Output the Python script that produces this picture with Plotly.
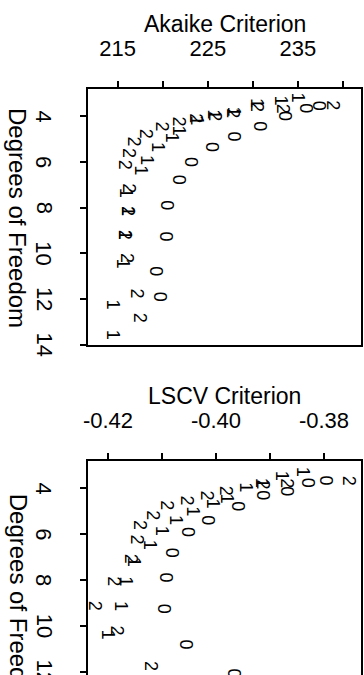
import plotly.graph_objects as go

FONT = "Liberation Sans, Arial, Helvetica, sans-serif"

# ---------------- data ----------------
# Top panel: Akaike criterion vs degrees of freedom, local degree 0/1/2
aic_df0 = [3.52, 3.65, 4.00, 4.44, 4.88, 5.36, 5.98, 6.77, 7.91, 9.28, 10.81, 11.91]
aic_val0 = [237.3, 235.9, 233.5, 230.7, 227.9, 225.4, 223.2, 221.9, 220.5, 220.4, 219.3, 219.7]
aic_df1 = [3.17, 3.30, 3.43, 3.78, 3.91, 4.18, 4.62, 4.92, 5.36, 5.89, 6.37, 7.34, 8.13, 9.19, 10.46, 12.26, 13.58]
aic_val1 = [235.0, 233.1, 230.4, 227.9, 225.7, 223.7, 221.9, 221.0, 219.4, 218.2, 217.5, 216.0, 216.2, 215.8, 215.6, 214.5, 214.5]
aic_df2 = [3.52, 3.65, 3.61, 3.87, 4.00, 4.09, 4.22, 4.44, 4.75, 5.10, 5.58, 6.11, 7.17, 8.13, 9.19, 10.20, 11.74, 12.84]
aic_val2 = [238.8, 233.3, 230.4, 227.8, 225.7, 223.6, 221.8, 219.9, 218.1, 216.8, 216.2, 215.9, 216.3, 216.2, 215.8, 216.0, 217.2, 217.5]

# Bottom panel: LSCV criterion vs degrees of freedom
lscv_df0 = [3.66, 3.74, 4.13, 4.30, 4.78, 5.38, 5.90, 6.80, 7.88, 9.26, 10.81, 12.08]
lscv_val0 = [-0.3796, -0.3828, -0.3870, -0.3913, -0.3959, -0.4015, -0.4052, -0.4080, -0.4093, -0.4096, -0.4056, -0.3967]
lscv_df1 = [3.27, 3.44, 3.75, 3.96, 4.43, 4.65, 4.99, 5.38, 5.85, 6.46, 7.20, 8.05, 9.13, 10.38]
lscv_val1 = [-0.3839, -0.3878, -0.3915, -0.3944, -0.3980, -0.4006, -0.4043, -0.4074, -0.4100, -0.4122, -0.4152, -0.4167, -0.4176, -0.4200]
lscv_df2 = [3.66, 3.78, 3.83, 4.09, 4.30, 4.52, 4.73, 5.16, 5.59, 6.24, 7.06, 8.05, 9.13, 10.21, 11.76]
lscv_val2 = [-0.3754, -0.3870, -0.3913, -0.3980, -0.4017, -0.4054, -0.4091, -0.4117, -0.4141, -0.4146, -0.4156, -0.4189, -0.4224, -0.4183, -0.4120]

aic_ticks = [215, 225, 235]
aic_minor = [220, 230, 240]
lscv_ticks = [-0.42, -0.40, -0.38]
lscv_ticktext = ["-0.42", "-0.40", "-0.38"]
lscv_minor = [-0.41, -0.39]
df_ticks = [4, 6, 8, 10, 12, 14]
df_ticktext = ["4", "6", "8", "10", "12", "14"]

# ---------------- figure ----------------
W, H = 364, 675
ML, MR, MT, MB = 88, 3, 89, 0
PW, PH = W - ML - MR, H - MT - MB

def py(p):
    return (H - MB - p) / PH

def px(p):
    return (p - ML) / PW

fig = go.Figure()

panels = [
    ("x", "y", [(aic_df0, aic_val0, "0"), (aic_df1, aic_val1, "1"), (aic_df2, aic_val2, "2")]),
    ("x2", "y2", [(lscv_df0, lscv_val0, "0"), (lscv_df1, lscv_val1, "1"), (lscv_df2, lscv_val2, "2")]),
]
for xr, yr, series in panels:
    for dfs, vals, ch in series:
        fig.add_trace(go.Scatter(x=vals, y=dfs, mode="markers", xaxis=xr, yaxis=yr,
                                 marker=dict(size=1, opacity=0), hoverinfo="skip"))
        for d, v in zip(dfs, vals):
            fig.add_annotation(x=v, y=d, xref=xr, yref=yr, text=ch, textangle=90,
                               showarrow=False, xanchor="center", yanchor="middle",
                               font=dict(size=18, color="black", family=FONT))

tickfont = dict(size=22, family=FONT, color="black")
axis_common = dict(ticks="outside", ticklen=6, tickwidth=1.5, tickcolor="black",
                   showline=True, linecolor="black", linewidth=2, showgrid=False,
                   zeroline=False, tickfont=tickfont, automargin=False)
minor_common = dict(ticks="outside", ticklen=6, tickwidth=1.5, tickcolor="black", showgrid=False)

fig.update_layout(
    width=W, height=H, margin=dict(l=ML, r=MR, t=MT, b=MB, autoexpand=False),
    paper_bgcolor="white", plot_bgcolor="white", showlegend=False,
    xaxis=dict(domain=[0, 1], anchor="y", side="top", range=[211.7, 242.0],
               tickvals=aic_ticks, mirror=True, ticklabelstandoff=16,
               minor=dict(tickvals=aic_minor, **minor_common), **axis_common),
    yaxis=dict(domain=[py(344.5), 1], anchor="x", range=[14.0, 2.8],
               tickvals=df_ticks, showticklabels=False, mirror=True, **axis_common),
    xaxis2=dict(domain=[0, 1], anchor="y2", side="top", range=[-0.4237, -0.37315],
                tickvals=lscv_ticks, ticktext=lscv_ticktext, mirror=False, ticklabelstandoff=16,
                minor=dict(tickvals=lscv_minor, **minor_common), **axis_common),
    yaxis2=dict(domain=[0, py(461)], anchor="x2", range=[12.15, 2.8],
                tickvals=df_ticks, showticklabels=False, mirror=True, **axis_common),
)

# rotated tick labels for the degrees-of-freedom axes
for yr in ("y", "y2"):
    for v, t in zip(df_ticks, df_ticktext):
        fig.add_annotation(x=px(44), y=v, xref="paper", yref=yr, text=t, textangle=90,
                           showarrow=False, xanchor="center", yanchor="middle", font=tickfont)

title_font = dict(size=23, family=FONT, color="black")
fig.add_annotation(text="Akaike Criterion", xref="paper", yref="paper", x=0.5, y=py(24),
                   showarrow=False, xanchor="center", yanchor="middle", font=title_font)
fig.add_annotation(text="LSCV Criterion", xref="paper", yref="paper", x=0.5, y=py(396),
                   showarrow=False, xanchor="center", yanchor="middle", font=title_font)
ytitle_font = dict(size=24, family=FONT, color="black")
for cy in (218, 603.7):
    fig.add_annotation(text="Degrees of Freedom", xref="paper", yref="paper", x=px(18),
                       y=py(cy), textangle=90, showarrow=False, xanchor="center",
                       yanchor="middle", font=ytitle_font)

fig.write_html("out.html")
